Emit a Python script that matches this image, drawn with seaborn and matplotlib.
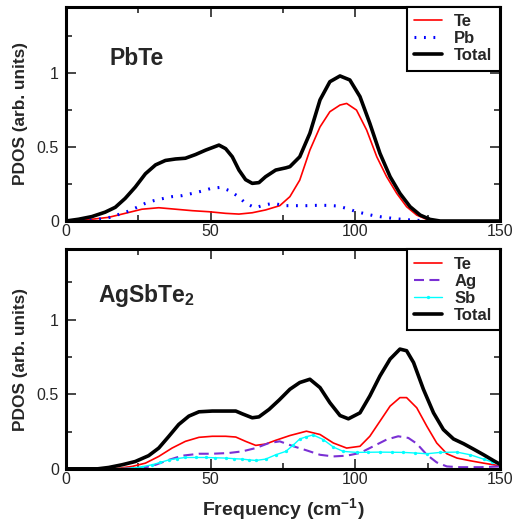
import numpy as np
import pandas as pd
import seaborn as sns
import matplotlib.pyplot as plt

# -----------------------------
# Data
# -----------------------------
# PbTe panel
pbte_tot_x = [0, 4.4, 9.0, 13.6, 17.1, 20.5, 24.0, 27.5, 31.0, 34.4, 37.9, 41.3, 44.8,
              48.3, 52.9, 55.2, 57.5, 59.8, 62.1, 64.4, 66.7, 69.0, 72.5, 76.0, 77.4,
              80.8, 84.3, 87.8, 91.2, 94.7, 98.1, 101.6, 105.0, 108.5, 112.0, 115.4,
              118.9, 122.4, 125.8, 129.3, 140, 150]
pbte_tot_y = [0.0, 0.012, 0.03, 0.06, 0.093, 0.153, 0.23, 0.32, 0.38, 0.41, 0.42, 0.425,
              0.45, 0.48, 0.514, 0.49, 0.435, 0.345, 0.28, 0.255, 0.26, 0.30, 0.345, 0.36,
              0.368, 0.435, 0.594, 0.82, 0.943, 0.982, 0.955, 0.842, 0.661, 0.458, 0.30,
              0.187, 0.097, 0.04, 0.011, 0.0, 0.0, 0.0]

pbte_te_x = [3.2, 9.0, 14.8, 20.5, 26.3, 32.1, 37.9, 43.7, 49.4, 55.2, 59.8, 64.4, 69.0,
             73.9, 77.4, 80.8, 84.3, 87.8, 91.2, 94.7, 97.0, 100.4, 103.9, 107.4, 110.8,
             114.3, 117.7, 121.2, 124.7, 128.1]
pbte_te_y = [0.0, 0.012, 0.025, 0.052, 0.08, 0.09, 0.08, 0.07, 0.063, 0.052, 0.047, 0.056,
             0.075, 0.104, 0.165, 0.277, 0.48, 0.637, 0.74, 0.785, 0.796, 0.751, 0.616,
             0.435, 0.30, 0.187, 0.097, 0.04, 0.011, 0.0]

pbte_pb_x = [5.0, 11.3, 15.3, 21.1, 24.6, 27.5, 30.4, 33.3, 36.7, 40.2, 43.7, 47.1, 50.2,
             53.5, 56.6, 59.6, 62.1, 65.4, 68.5, 71.6, 75.6, 79.1, 83.1, 86.5, 90.0, 93.7,
             96.9, 100.4, 103.9, 106.8, 110.2, 113.7, 117.7, 121.2, 124.7]
pbte_pb_y = [0.002, 0.012, 0.025, 0.063, 0.093, 0.12, 0.138, 0.151, 0.165, 0.172, 0.187,
             0.203, 0.221, 0.228, 0.205, 0.165, 0.12, 0.09, 0.108, 0.12, 0.104, 0.104,
             0.104, 0.106, 0.106, 0.102, 0.086, 0.063, 0.047, 0.034, 0.025, 0.016, 0.009,
             0.005, 0.0]

# AgSbTe2 panel
ast_tot_x = [0, 11.0, 14.8, 19.4, 24.0, 28.6, 32.1, 35.6, 39.0, 42.5, 46.0, 50.6, 55.2,
             58.7, 61.0, 64.4, 66.7, 70.2, 73.7, 77.4, 80.8, 84.3, 87.8, 91.2, 94.7, 97.6,
             101.6, 105.0, 108.5, 112.0, 115.4, 117.7, 120.1, 123.5, 127.0, 130.4, 133.9,
             137.4, 140.8, 144.3, 147.8, 150]
ast_tot_y = [0.0, 0.0, 0.009, 0.027, 0.049, 0.088, 0.139, 0.218, 0.297, 0.353, 0.382,
             0.387, 0.387, 0.387, 0.368, 0.342, 0.348, 0.398, 0.461, 0.533, 0.578, 0.60,
             0.544, 0.443, 0.357, 0.335, 0.375, 0.488, 0.622, 0.735, 0.802, 0.791, 0.712,
             0.533, 0.375, 0.263, 0.20, 0.168, 0.132, 0.094, 0.054, 0.03]

ast_te_x = [14.8, 18.2, 22.9, 27.5, 32.1, 36.7, 41.3, 46.0, 50.6, 55.2, 58.7, 62.1, 65.6,
            69.0, 72.5, 77.4, 83.1, 87.8, 92.4, 97.0, 101.6, 105.0, 108.5, 112.0, 115.4,
            117.7, 121.2, 124.7, 128.1, 131.6, 135.1, 139.7, 144.3, 150]
ast_te_y = [0.0, 0.004, 0.016, 0.038, 0.083, 0.139, 0.184, 0.211, 0.218, 0.218, 0.213,
            0.184, 0.157, 0.166, 0.191, 0.223, 0.252, 0.23, 0.173, 0.139, 0.151, 0.218,
            0.319, 0.42, 0.477, 0.477, 0.409, 0.285, 0.173, 0.101, 0.072, 0.054, 0.038,
            0.02]

ast_ag_x = [20.0, 26.3, 31.0, 35.6, 40.2, 46.0, 50.6, 56.3, 61.0, 65.6, 70.2, 73.9, 78.6,
            83.1, 87.8, 92.4, 97.0, 101.6, 106.2, 110.8, 114.8, 118.3, 121.2, 124.7, 128.1,
            131.6, 136.2, 143.1, 150]
ast_ag_y = [0.0, 0.004, 0.027, 0.06, 0.088, 0.101, 0.101, 0.106, 0.117, 0.139, 0.173,
            0.184, 0.151, 0.124, 0.094, 0.083, 0.088, 0.106, 0.151, 0.196, 0.218, 0.207,
            0.169, 0.094, 0.043, 0.016, 0.011, 0.011, 0.016]

ast_sb_x = [14.8, 18.8, 22.9, 26.3, 29.8, 32.7, 35.6, 38.5, 41.3, 44.8, 48.3, 51.7, 55.2,
            58.1, 61.0, 63.3, 65.6, 69.0, 72.5, 76.0, 78.6, 80.8, 83.1, 85.4, 88.9, 92.4,
            95.8, 100.4, 104.5, 108.5, 112.6, 116.6, 120.6, 124.7, 129.3, 135.1, 139.7,
            144.3, 147.2, 150]
ast_sb_y = [0.0, 0.002, 0.004, 0.014, 0.027, 0.043, 0.06, 0.069, 0.076, 0.076, 0.076,
            0.074, 0.072, 0.068, 0.065, 0.06, 0.056, 0.065, 0.094, 0.117, 0.16, 0.20,
            0.215, 0.227, 0.196, 0.146, 0.117, 0.11, 0.111, 0.112, 0.111, 0.11, 0.106,
            0.101, 0.11, 0.112, 0.094, 0.065, 0.046, 0.027]

# -----------------------------
# Style
# -----------------------------
sns.set_style("ticks")
plt.rcParams["font.family"] = ["Liberation Sans", "DejaVu Sans"]
plt.rcParams["mathtext.fontset"] = "custom"
plt.rcParams["mathtext.rm"] = "Liberation Sans"
plt.rcParams["mathtext.bf"] = "Liberation Sans:bold"

fig = plt.figure(figsize=(5.14, 5.25), dpi=100)
ax_top = fig.add_axes([0.128, 0.579, 0.845, 0.408])
ax_bot = fig.add_axes([0.128, 0.107, 0.845, 0.418])

LEG_KW = dict(loc="upper right", borderaxespad=0, fancybox=False,
              prop={"size": 12, "weight": "bold"},
              edgecolor="black", handlelength=1.65, handletextpad=0.75,
              labelspacing=0.12, borderpad=0.45)


def style_axis(ax, ytop):
    ax.set_xlim(0, 150)
    ax.set_ylim(0, ytop)
    ax.set_xticks([0, 50, 100, 150])
    ax.set_xticks([25, 75, 125], minor=True)
    ax.set_yticks([0, 0.5, 1])
    ax.set_yticklabels(["0", "0.5", "1"])
    ax.set_yticks([0.25, 0.75, 1.25], minor=True)
    ax.tick_params(which="both", direction="in", top=True, right=True,
                   width=1.2, labelsize=11.5)
    ax.tick_params(axis="x", pad=2)
    ax.tick_params(axis="y", pad=5)
    ax.tick_params(which="major", length=7)
    ax.tick_params(which="minor", length=4)
    for sp in ax.spines.values():
        sp.set_linewidth(2.2)
        sp.set_color("black")
    ax.set_ylabel("PDOS (arb. units)", fontsize=12.4, fontweight="bold", labelpad=6)
    ax.set_xlabel("")


def style_legend(ax):
    leg = ax.legend(**LEG_KW)
    leg.get_frame().set_linewidth(1.5)
    leg.get_frame().set_alpha(1)


# -----------------------------
# PbTe
# -----------------------------
sns.lineplot(x=pbte_te_x, y=pbte_te_y, ax=ax_top, color="red", lw=1.2, label="Te")
sns.lineplot(x=pbte_pb_x, y=pbte_pb_y, ax=ax_top, color="blue", lw=2.2,
             linestyle=(0, (0.6, 2.5)), label="Pb")
sns.lineplot(x=pbte_tot_x, y=pbte_tot_y, ax=ax_top, color="black", lw=2.6, label="Total")
style_axis(ax_top, 1.45)
ax_top.text(15, 1.10, "PbTe", fontsize=16.5, fontweight="bold", ha="left", va="center")
style_legend(ax_top)

# -----------------------------
# AgSbTe2
# -----------------------------
sns.lineplot(x=ast_te_x, y=ast_te_y, ax=ax_bot, color="red", lw=1.2, label="Te")
sns.lineplot(x=ast_ag_x, y=ast_ag_y, ax=ax_bot, color="#7a30d4", lw=1.5,
             linestyle=(0, (4.8, 2.6)), label="Ag")
sns.lineplot(x=ast_sb_x, y=ast_sb_y, ax=ax_bot, color="cyan", lw=1.0, marker="o",
             markersize=2.4, markeredgewidth=0, label="Sb")
sns.lineplot(x=ast_tot_x, y=ast_tot_y, ax=ax_bot, color="black", lw=2.6, label="Total")
style_axis(ax_bot, 1.47)
ax_bot.text(11, 1.16, "AgSbTe$_\\mathbf{2}$", fontsize=16.5, fontweight="bold",
            ha="left", va="center")
ax_bot.set_xlabel("Frequency (cm$^{\\mathbf{-1}}$)", fontsize=14, fontweight="bold",
                  labelpad=7)
style_legend(ax_bot)

fig.savefig("out.png", dpi=100)
